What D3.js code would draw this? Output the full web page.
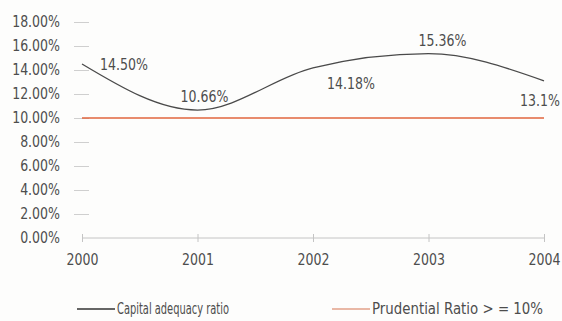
<!DOCTYPE html>
<html>
<head>
<meta charset="utf-8">
<script src="https://cdn.jsdelivr.net/npm/d3@7"></script>
<style>
  html, body { margin: 0; padding: 0; background: #fdfdfc; }
  svg { display: block; }
  text { font-family: "Liberation Sans Narrow", "DejaVu Sans Condensed", "Roboto", sans-serif; font-stretch: condensed; fill: #4d4d4d; }
</style>
</head>
<body>
<svg id="chart" width="562" height="321"></svg>
<script>
// Capital adequacy ratio by year, with the 10% prudential floor
const years = ["2000", "2001", "2002", "2003", "2004"];
const capitalRatio = [14.50, 10.66, 14.18, 15.36, 13.1];
const capitalLabels = ["14.50%", "10.66%", "14.18%", "15.36%", "13.1%"];
const prudentialRatio = [10, 10, 10, 10, 10];
const yTicks = [0, 2, 4, 6, 8, 10, 12, 14, 16, 18];
const legendNames = ["Capital adequacy ratio", "Prudential Ratio  > = 10%"];

const FS = 15;
const svg = d3.select("#chart");
const x = d3.scalePoint().domain(years).range([82, 544]);
const y = d3.scaleLinear().domain([0, 18]).range([238, 22]);

// squeeze text horizontally to a narrower face
function squeeze(sel, k) {
  sel.each(function () {
    const w = this.getComputedTextLength();
    d3.select(this).attr("textLength", w * k).attr("lengthAdjust", "spacingAndGlyphs");
  });
}

// y axis: floating dashes left of the plot, no spine
const yAxis = d3.axisLeft(y).tickValues(yTicks).tickSize(0).tickPadding(0)
  .tickFormat(d => d.toFixed(2) + "%");
const gy = svg.append("g").attr("transform", "translate(60,0)").call(yAxis);
gy.select(".domain").remove();
gy.selectAll("text").attr("font-size", FS).attr("text-anchor", "end")
  .style("font-family", null).call(squeeze, 0.93);
gy.selectAll(".tick").filter(d => d > 0).append("line")
  .attr("x1", 14).attr("x2", 29).attr("stroke", "#cfcfcf").attr("stroke-width", 1);

// x axis along zero
const xAxis = d3.axisBottom(x).tickSize(4).tickPadding(12);
const gx = svg.append("g").attr("transform", `translate(0,${y(0)})`).call(xAxis);
gx.select(".domain").attr("stroke", "#c4c4c4").attr("d", `M${x("2000")},0H${x("2004")}`);
gx.selectAll(".tick line").attr("y1", -4).attr("y2", 4).attr("stroke", "#c4c4c4");
gx.selectAll("text").attr("font-size", FS).style("font-family", null).call(squeeze, 0.93);

// prudential floor line
const line = d3.line().x((d, i) => x(years[i])).y(d => y(d));
svg.append("path").datum(prudentialRatio)
  .attr("d", line)
  .attr("fill", "none").attr("stroke", "#e0653e").attr("stroke-width", 1.6);

// capital adequacy curve
svg.append("path").datum(capitalRatio)
  .attr("d", line.curve(d3.curveMonotoneX))
  .attr("fill", "none").attr("stroke", "#4a4a4a").attr("stroke-width", 1.3);

// value labels
const labelOffsets = [[18, 1], [-17, -13], [14, 16], [-10, -13], [-24, 20]];
svg.selectAll(".vlabel").data(capitalRatio).enter().append("text")
  .attr("class", "vlabel")
  .attr("x", (d, i) => x(years[i]) + labelOffsets[i][0])
  .attr("y", (d, i) => y(d) + labelOffsets[i][1])
  .attr("dominant-baseline", "central")
  .attr("font-size", FS)
  .text((d, i) => capitalLabels[i])
  .call(squeeze, 0.93);

// legend
const legend = [
  { name: legendNames[0], color: "#333333", x: 77, w: 112 },
  { name: legendNames[1], color: "#e2a08a", x: 332, w: 171 }
];
const lg = svg.selectAll(".legend").data(legend).enter().append("g")
  .attr("transform", d => `translate(${d.x},309)`);
lg.append("line").attr("x1", 0).attr("x2", 38).attr("stroke", d => d.color).attr("stroke-width", 1.3);
lg.append("text").attr("x", 40).attr("dominant-baseline", "central")
  .attr("font-size", FS).text(d => d.name)
  .attr("textLength", d => d.w).attr("lengthAdjust", "spacingAndGlyphs");
</script>
</body>
</html>
